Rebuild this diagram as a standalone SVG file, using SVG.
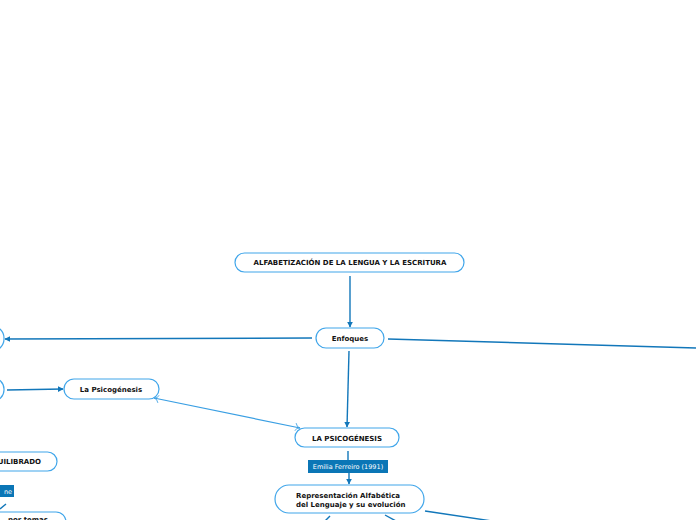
<svg xmlns="http://www.w3.org/2000/svg" width="696" height="520" viewBox="0 0 696 520">
<defs>
<style>
.n{fill:#fff;stroke:#41a6ea;stroke-width:1.2}
.t{font-family:"DejaVu Sans",Verdana,sans-serif;font-weight:bold;font-size:7px;fill:#111}
.c{stroke:#1277ba;stroke-width:1.4;fill:none}
.d{stroke:#3a9fe3;stroke-width:1.2;fill:none}
.lb{fill:#0b76b6}
.lt{font-family:"DejaVu Sans",Verdana,sans-serif;font-size:6.5px;fill:#fff}
</style>
<marker id="a" viewBox="0 0 10 10" refX="9" refY="5" markerWidth="6" markerHeight="6" orient="auto-start-reverse" markerUnits="userSpaceOnUse">
<path d="M0,0 L10,5 L0,10 z" fill="#1277ba"/>
</marker>
<marker id="o" viewBox="0 0 10 10" refX="9" refY="5" markerWidth="8" markerHeight="8" orient="auto-start-reverse" markerUnits="userSpaceOnUse">
<path d="M3,0 Q5,5 9,5 Q5,5 3,10" fill="none" stroke="#3a9fe3" stroke-width="1"/>
</marker>
</defs>
<g id="connectors">
<line class="c" x1="350" y1="276" x2="350" y2="327" marker-end="url(#a)"/>
<line class="c" x1="312" y1="338" x2="5" y2="339" marker-end="url(#a)"/>
<line class="c" x1="388" y1="339" x2="696" y2="348"/>
<line class="c" x1="349" y1="351" x2="347" y2="427" marker-end="url(#a)"/>
<line class="c" x1="7" y1="390" x2="63" y2="389" marker-end="url(#a)"/>
<line class="d" x1="154" y1="398" x2="300" y2="428" marker-start="url(#o)" marker-end="url(#o)"/>
<line class="c" x1="348" y1="451" x2="348" y2="460"/>
<line class="c" x1="349" y1="473" x2="349" y2="484" marker-end="url(#a)"/>
<line class="c" x1="330" y1="516" x2="325" y2="521"/>
<line class="c" x1="385" y1="515" x2="396" y2="521"/>
<line class="c" x1="425" y1="511" x2="492" y2="521"/>
<line class="c" x1="6" y1="504" x2="0" y2="509"/>
</g>
<g id="title"><rect class="n" x="235" y="253" width="229" height="19" rx="9.5"/><text class="t" x="350" y="264.5" text-anchor="middle">ALFABETIZACIÓN DE LA LENGUA Y LA ESCRITURA</text></g>
<g id="enfoques"><rect class="n" x="316" y="328" width="68" height="20" rx="10"/><text class="t" x="350" y="340.5" text-anchor="middle">Enfoques</text></g>
<g id="left1"><rect class="n" x="-60" y="326" width="64" height="25" rx="12"/></g>
<g id="left2"><rect class="n" x="-60" y="378" width="64" height="23" rx="11"/></g>
<g id="psico-small"><rect class="n" x="64" y="379" width="95" height="20" rx="10"/><text class="t" x="111" y="391.5" text-anchor="middle">La Psicogénesis</text></g>
<g id="psico"><rect class="n" x="295" y="428" width="104" height="19" rx="9.5"/><text class="t" x="347" y="440.5" text-anchor="middle">LA PSICOGÉNESIS</text></g>
<g id="ferreiro"><rect class="lb" x="308" y="460" width="80" height="13"/><text class="lt" x="348" y="469" text-anchor="middle">Emilia Ferreiro (1991)</text></g>
<g id="representacion"><rect class="n" x="275" y="485" width="149" height="28" rx="14"/><text class="t" x="296" y="497.5">Representación Alfabética</text><text class="t" x="296" y="506.5">del Lenguaje y su evolución</text></g>
<g id="equilibrado"><rect class="n" x="-60" y="452" width="117" height="19" rx="9.5"/><text class="t" x="41" y="464" text-anchor="end">EQUILIBRADO</text></g>
<g id="label-ne"><rect class="lb" x="-30" y="485" width="44" height="12"/><text class="lt" x="12" y="493.5" text-anchor="end">ne</text></g>
<g id="bottom-left"><rect class="n" x="-60" y="512" width="126" height="20" rx="10"/><text class="t" x="48" y="522" text-anchor="end">por temas</text></g>
</svg>
